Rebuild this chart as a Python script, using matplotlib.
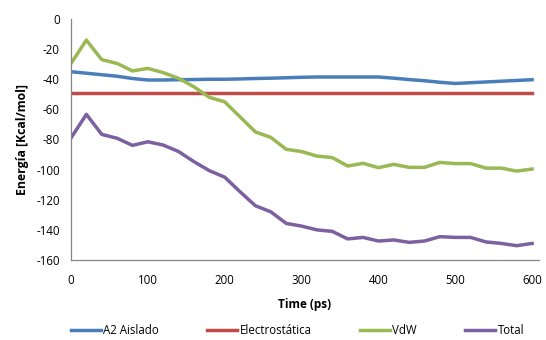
import matplotlib
matplotlib.use("Agg")
import matplotlib.pyplot as plt

time_ps = [0, 20, 40, 60, 80, 100, 120, 140, 160, 180, 200, 220, 240, 260, 280, 300,
           320, 340, 360, 380, 400, 420, 440, 460, 480, 500, 520, 540, 560, 580, 600]
a2_aislado = [-35, -36, -37, -38, -39.5, -40.5, -40.5, -40.3, -40.2, -40, -40, -39.8, -39.5,
              -39.3, -39, -38.7, -38.5, -38.5, -38.5, -38.5, -38.5, -39.3, -40.2, -41, -42,
              -42.8, -42.3, -41.8, -41.3, -40.8, -40.3]
electrostatica = [-49] * 31
vdw = [-29.5, -14, -27, -29.5, -34.5, -32.8, -35.6, -39.4, -45, -52, -55, -65, -75, -78.6,
       -86.5, -88, -91, -92, -97.6, -95.8, -98.7, -96.5, -98.5, -98.5, -95.2, -96, -96,
       -99, -99, -101, -99.6]
total = [-79, -63.3, -76.6, -79.2, -83.9, -81.5, -83.7, -88, -94.7, -100.7, -105, -114.7,
         -124, -128, -135.7, -137.5, -140, -141, -146, -145, -147.4, -146.7, -148.3, -147.4,
         -144.5, -145, -145, -148, -149, -150.5, -149]

series_names = ["A2 Aislado", "Electrostática", "VdW", "Total"]
colors = ["#4A7EBB", "#BE4B48", "#98B954", "#7D60A0"]
x_ticks = [0, 100, 200, 300, 400, 500, 600]
y_ticks = [0, -20, -40, -60, -80, -100, -120, -140, -160]

plt.rcParams['font.family'] = ['Open Sans', 'DejaVu Sans']
plt.rcParams['axes.unicode_minus'] = False

fig = plt.figure(figsize=(5.46, 3.40), dpi=100)
ax = fig.add_axes([71/546, 1 - 260/340, (539-71)/546, (260-19)/340])

for vals, name, c in zip([a2_aislado, electrostatica, vdw, total], series_names, colors):
    ax.plot(time_ps, vals, color=c, lw=2.5, label=name, solid_joinstyle='round')

ax.set_xlim(0, 609)
ax.set_ylim(-160, 0)
ax.set_xticks(x_ticks)
ax.set_yticks(y_ticks)
ax.tick_params(length=0, labelsize=8.3, colors='#000000')
ax.tick_params(axis='x', pad=10)
ax.tick_params(axis='y', pad=8)
for s in ['top', 'right']:
    ax.spines[s].set_visible(False)
for s in ['left', 'bottom']:
    ax.spines[s].set_color('#868686')
    ax.spines[s].set_linewidth(0.9)

ax.set_xlabel("Time (ps)", fontsize=8.5, fontweight='bold', labelpad=8)
ax.set_ylabel("Energía [Kcal/mol]", fontsize=8.8, fontweight='bold', labelpad=5)

fig.legend(loc='center left', bbox_to_anchor=(71/546, 1 - 331/340), ncol=4, frameon=False,
           fontsize=8.3, handlelength=2.6, handletextpad=0.2, columnspacing=4.2,
           borderpad=0, borderaxespad=0)

fig.savefig("out.png", dpi=100)
